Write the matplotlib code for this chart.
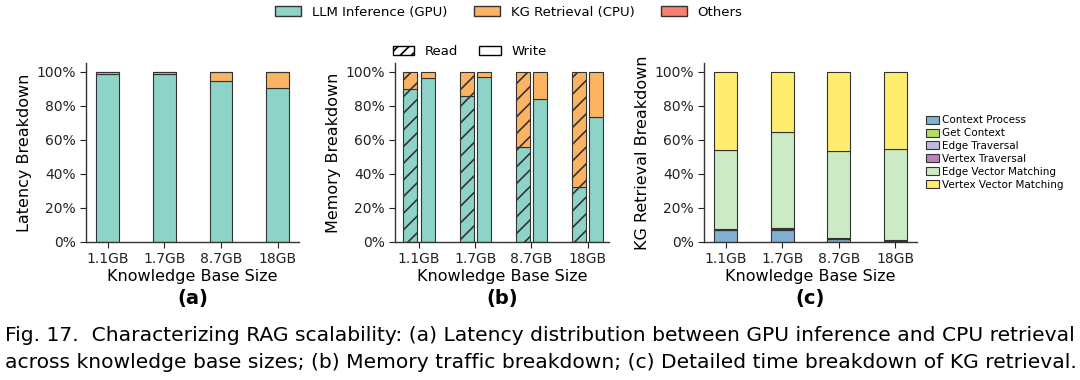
import matplotlib
matplotlib.use("Agg")
import matplotlib.pyplot as plt
from matplotlib.patches import Patch
from matplotlib.ticker import PercentFormatter
import numpy as np

plt.rcParams['hatch.linewidth'] = 1.2
plt.rcParams['hatch.color'] = 'black'

sizes = ['1.1GB', '1.7GB', '8.7GB', '18GB']

# (a) latency breakdown
lat_gpu = [98.5, 98.3, 94.5, 90.3]
lat_kg = [1.0, 1.2, 5.3, 9.5]
lat_other = [0.5, 0.5, 0.2, 0.2]

# (b) memory breakdown, read / write
rd_gpu = [89.5, 85.5, 56.0, 32.5]
rd_kg = [10.5, 14.5, 44.0, 67.5]
wr_gpu = [96.0, 97.0, 84.0, 73.5]
wr_kg = [4.0, 3.0, 16.0, 26.5]

# (c) KG retrieval breakdown
kg_parts = ['Context Process', 'Get Context', 'Edge Traversal',
            'Vertex Traversal', 'Edge Vector Matching', 'Vertex Vector Matching']
ctx_proc = [6.8, 7.2, 1.5, 0.2]
get_ctx = [0.4, 0.4, 0.4, 0.3]
edge_trav = [0.3, 0.3, 0.3, 0.2]
vert_trav = [0.3, 0.3, 0.3, 0.2]
edge_vec = [46.2, 56.3, 51.0, 53.6]
vert_vec = [46.0, 35.5, 46.5, 45.5]

c_gpu, c_kg, c_other = '#8dd3c7', '#fdb462', '#fb8072'
kg_colors = ['#80b1d3', '#b3de69', '#bebada', '#bc80bd', '#ccebc5', '#ffed6f']
edge = '#333333'

fig = plt.figure(figsize=(10.8, 3.8), dpi=100)
ax_a = fig.add_axes([0.0796, 0.3632, 0.1973, 0.471])
ax_b = fig.add_axes([0.3657, 0.3632, 0.1982, 0.471])
ax_c = fig.add_axes([0.6519, 0.3632, 0.1971, 0.471])

x = np.arange(len(sizes))
w = 0.4

# (a)
ax_a.bar(x, lat_gpu, w, color=c_gpu, edgecolor=edge, linewidth=0.8)
ax_a.bar(x, lat_kg, w, bottom=lat_gpu, color=c_kg, edgecolor=edge, linewidth=0.8)
ax_a.bar(x, lat_other, w, bottom=np.add(lat_gpu, lat_kg), color=c_other,
         edgecolor=edge, linewidth=0.8)

# (b)
bw = 0.25
off = 0.155
ax_b.bar(x - off, rd_gpu, bw, color=c_gpu, edgecolor=edge, linewidth=0.8, hatch='//')
ax_b.bar(x - off, rd_kg, bw, bottom=rd_gpu, color=c_kg, edgecolor=edge, linewidth=0.8, hatch='//')
ax_b.bar(x + off, wr_gpu, bw, color=c_gpu, edgecolor=edge, linewidth=0.8)
ax_b.bar(x + off, wr_kg, bw, bottom=wr_gpu, color=c_kg, edgecolor=edge, linewidth=0.8)

# (c)
bottom = np.zeros(len(sizes))
for name, vals, col in zip(kg_parts, [ctx_proc, get_ctx, edge_trav, vert_trav, edge_vec, vert_vec], kg_colors):
    ax_c.bar(x, vals, w, bottom=bottom, color=col, edgecolor=edge, linewidth=0.8, label=name)
    bottom += np.array(vals)

ylabels = ['Latency Breakdown', 'Memory Breakdown', 'KG Retrieval Breakdown']
tags = ['(a)', '(b)', '(c)']
for ax, yl, tag in zip([ax_a, ax_b, ax_c], ylabels, tags):
    ax.set_ylim(0, 105)
    ax.set_yticks([0, 20, 40, 60, 80, 100])
    ax.yaxis.set_major_formatter(PercentFormatter(decimals=0))
    ax.set_xticks(x)
    ax.set_xticklabels(sizes)
    ax.set_xlim(-0.38, 3.38)
    ax.spines['top'].set_visible(False)
    ax.spines['right'].set_visible(False)
    for s in ['left', 'bottom']:
        ax.spines[s].set_color('#333333')
        ax.spines[s].set_linewidth(1.0)
    ax.tick_params(labelsize=10, colors='#222222', length=4)
    ax.set_ylabel(yl, fontsize=11.5, labelpad=3)
    ax.set_xlabel('Knowledge Base Size', fontsize=11.5, labelpad=2)
    ax.text(0.5, -0.315, tag, transform=ax.transAxes, ha='center', va='center',
            fontsize=14, fontweight='bold')
ax_b.set_xlim(-0.43, 3.38)

# top legend
top_handles = [Patch(facecolor=c_gpu, edgecolor=edge, label='LLM Inference (GPU)'),
               Patch(facecolor=c_kg, edgecolor=edge, label='KG Retrieval (CPU)'),
               Patch(facecolor=c_other, edgecolor=edge, label='Others')]
fig.legend(handles=top_handles, loc='center', bbox_to_anchor=(0.471, 0.968), ncol=3,
           frameon=False, fontsize=9.5, columnspacing=2.0, handlelength=2.0)

# read / write legend
rw_handles = [Patch(facecolor='white', edgecolor='black', hatch='///', label='Read'),
              Patch(facecolor='white', edgecolor='black', label='Write')]
ax_b.legend(handles=rw_handles, loc='lower center', bbox_to_anchor=(0.35, 0.99), ncol=2,
            frameon=False, fontsize=9.5, columnspacing=1.6, handlelength=1.6,
            borderaxespad=0.1)

# (c) legend
ax_c.legend(loc='center left', bbox_to_anchor=(1.0, 0.5), frameon=False, fontsize=7.5,
            handlelength=1.2, handleheight=0.8, handletextpad=0.3, labelspacing=0.27)

cap_font = ['DejaVu Sans']
fig.text(0.005, 0.118, 'Fig. 17.  Characterizing RAG scalability: (a) Latency distribution between GPU inference and CPU retrieval',
         fontsize=14.6, family=cap_font, va='center', ha='left')
fig.text(0.005, 0.046, 'across knowledge base sizes; (b) Memory traffic breakdown; (c) Detailed time breakdown of KG retrieval.',
         fontsize=14.6, family=cap_font, va='center', ha='left')

fig.savefig('out.png', dpi=100)
